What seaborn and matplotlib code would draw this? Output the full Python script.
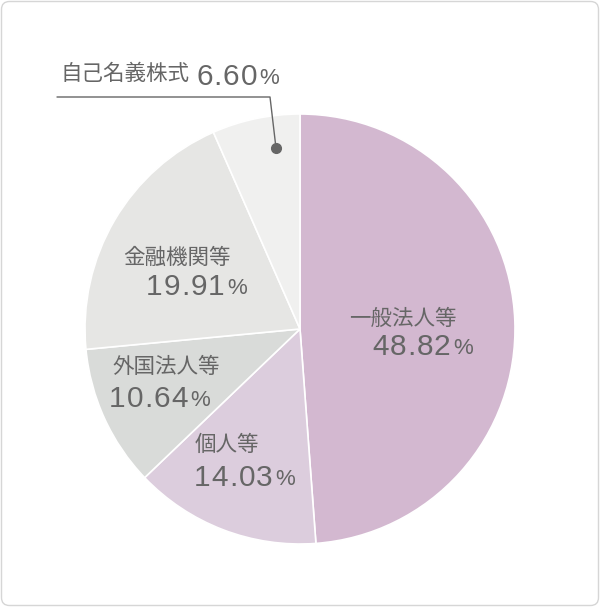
import matplotlib
matplotlib.use("Agg")
import matplotlib.pyplot as plt
import seaborn as sns
from matplotlib.patches import FancyBboxPatch

labels = ["一般法人等", "個人等", "外国法人等", "金融機関等", "自己名義株式"]
values = [48.82, 14.03, 10.64, 19.91, 6.60]
colors = ["#d3b8d0", "#dccddd", "#d9dbd9", "#e6e6e4", "#f0f0ef"]

sns.set_theme(style="white")
num_font = ["Liberation Sans", "DejaVu Sans"]
jp_font = ["Noto Sans CJK JP", "DejaVu Sans"]
txt_col = "#666666"

W, H = 600, 607
fig = plt.figure(figsize=(6, 6.07), dpi=100)
ax = fig.add_axes([0, 0, 1, 1])
ax.axis("off")

def py(y):
    # pixel y (top-down) -> data y
    return H - y

# outer frame
ax.add_patch(FancyBboxPatch((1.5, 1.5), W - 3, H - 3,
                            boxstyle="round,pad=0,rounding_size=8",
                            fc="white", ec="#d6d6d6", lw=1, zorder=0))

ax.pie(values, colors=colors, startangle=90, counterclock=False,
       center=(300, py(329)), radius=215,
       wedgeprops=dict(edgecolor="white", linewidth=1.2))
ax.set_xlim(0, W)
ax.set_ylim(0, H)
ax.set_aspect("auto")

def number(val, x, y, size=21.5, spacing=0.7):
    # digits drawn one by one to get the slight letter spacing
    s = f"{val:.2f}"
    t = ax.text(x, py(y), s[0], family=num_font, fontsize=size,
                color=txt_col, ha="left", va="baseline")
    for ch in s[1:]:
        t = ax.annotate(ch, xy=(1, 0), xycoords=t, xytext=(spacing, 0),
                        textcoords="offset points", family=num_font,
                        fontsize=size, color=txt_col, ha="left", va="bottom")
    ax.annotate("%", xy=(1, 0), xycoords=t, xytext=(1.8, 1.2),
                textcoords="offset points", family=num_font, fontsize=16,
                color=txt_col, ha="left", va="bottom")

def name(s, x, y):
    ax.text(x, py(y), s, family=jp_font, fontsize=15.5,
            color=txt_col, ha="left", va="baseline")

name(labels[0], 349, 325)
number(values[0], 372, 355)
name(labels[1], 195, 451)
number(values[1], 194, 486)
name(labels[2], 112, 373)
number(values[2], 109, 407)
name(labels[3], 123, 264)
number(values[3], 146, 295)

# 自己名義株式 with leader line
name(labels[4], 60, 80)
number(values[4], 196, 85)
ax.plot([57, 270, 276], [py(97), py(97), py(148)], color="#666666", lw=1)
ax.plot([276], [py(148)], "o", color="#666666", ms=7)

fig.savefig("out.png", dpi=100)
